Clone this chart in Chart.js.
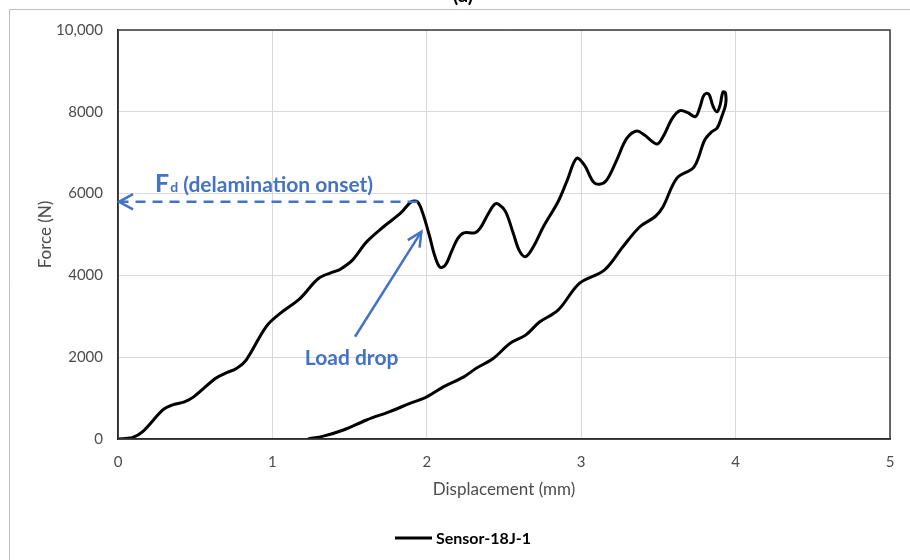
<!DOCTYPE html>
<html>
<head>
<meta charset="utf-8">
<script src="https://cdn.jsdelivr.net/npm/chart.js@4.4.1/dist/chart.umd.min.js"></script>
<style>
  html, body { margin: 0; padding: 0; background: #fff; }
  #wrap { width: 910px; height: 560px; }
</style>
</head>
<body>
<div id="wrap"><canvas id="forceChart" width="910" height="560"></canvas></div>
<script>
// loading branch, mm / N
const LOAD_DISP = [0, 0.09, 0.16, 0.29, 0.35, 0.43, 0.49, 0.63, 0.69, 0.77,
  0.83, 0.96, 1.05, 1.18, 1.30, 1.40, 1.44, 1.52, 1.61, 1.72,
  1.83, 1.90, 1.94, 1.97, 2.015, 2.05, 2.085, 2.12, 2.16, 2.20,
  2.24, 2.31, 2.345, 2.40, 2.44, 2.465, 2.51, 2.56, 2.60, 2.64,
  2.69, 2.755, 2.85, 2.91, 2.97, 3.02, 3.08, 3.12, 3.165, 3.23,
  3.295, 3.36, 3.41, 3.49, 3.53, 3.59, 3.64, 3.69, 3.74, 3.77,
  3.79, 3.81, 3.83, 3.855, 3.88, 3.90, 3.91, 3.92, 3.935];
const LOAD_FORCE = [0, 30, 180, 710, 830, 910, 1030, 1480, 1600, 1730,
  1930, 2750, 3070, 3440, 3930, 4090, 4150, 4380, 4820, 5190,
  5520, 5800, 5800, 5560, 5000, 4500, 4200, 4250, 4580, 4900,
  5040, 5040, 5150, 5520, 5740, 5740, 5560, 5030, 4600, 4460,
  4700, 5190, 5800, 6330, 6860, 6700, 6280, 6230, 6330, 6820,
  7350, 7530, 7430, 7210, 7390, 7840, 8030, 7980, 7880, 8125,
  8370, 8450, 8410, 8125, 8000, 8170, 8370, 8490, 8450];

// unloading branch
const UNLOAD_DISP = [3.935, 3.91, 3.88, 3.845, 3.80, 3.73, 3.62, 3.53, 3.48, 3.38,
  3.27, 3.15, 2.99, 2.85, 2.73, 2.64, 2.54, 2.43, 2.32, 2.24,
  2.11, 2.00, 1.89, 1.76, 1.61, 1.46, 1.33, 1.23];
const UNLOAD_FORCE = [8170, 7880, 7600, 7510, 7310, 6650, 6380, 5680, 5440, 5190,
  4700, 4130, 3810, 3150, 2860, 2540, 2340, 1970, 1730, 1520,
  1280, 1030, 870, 670, 465, 220, 70, 0];

const SERIES_LABEL = 'Sensor-18J-1';
const X_TICKS = [0, 1, 2, 3, 4, 5];
const Y_TICKS = [0, 2000, 4000, 6000, 8000, 10000];

// annotation anchors (data units)
const FD_FORCE = 5800;
const FD_DISP = 1.94;
const DROP_FROM = [1.535, 2500];
const DROP_TO = [1.965, 5070];

const BLUE = '#4472C4';
const AXIS_TXT = '#4d4d4d';
const FONT = 'Lato, "Open Sans", sans-serif';

const points = LOAD_DISP.map((x, i) => ({ x, y: LOAD_FORCE[i] }))
  .concat(UNLOAD_DISP.map((x, i) => ({ x, y: UNLOAD_FORCE[i] })));

function chevron(ctx, tipX, tipY, angle, len, spread) {
  ctx.beginPath();
  ctx.moveTo(tipX + len * Math.cos(angle + spread), tipY + len * Math.sin(angle + spread));
  ctx.lineTo(tipX, tipY);
  ctx.lineTo(tipX + len * Math.cos(angle - spread), tipY + len * Math.sin(angle - spread));
  ctx.stroke();
}

const sheetFrame = {
  id: 'sheetFrame',
  beforeDraw(chart) {
    const ctx = chart.ctx;
    ctx.save();
    ctx.fillStyle = '#fff';
    ctx.fillRect(0, 0, chart.width, chart.height);
    ctx.strokeStyle = '#bfbfbf';
    ctx.lineWidth = 1;
    ctx.beginPath();
    ctx.moveTo(9.5, chart.height + 2);
    ctx.lineTo(9.5, 9.5);
    ctx.lineTo(chart.width + 2, 9.5);
    ctx.stroke();
    // panel letter sitting just above the frame
    ctx.fillStyle = '#000';
    ctx.font = 'bold 20px ' + FONT;
    ctx.textAlign = 'center';
    ctx.textBaseline = 'alphabetic';
    ctx.fillText('(a)', 463, 2);
    ctx.restore();
  },
  afterDraw(chart) {
    const { ctx, chartArea: a, scales: { x, y } } = chart;
    ctx.save();
    // plot border
    ctx.strokeStyle = '#3a3a3a';
    ctx.lineWidth = 1.5;
    ctx.strokeRect(a.left, a.top, a.right - a.left, a.bottom - a.top);

    ctx.strokeStyle = BLUE;
    ctx.fillStyle = BLUE;
    ctx.lineWidth = 2.5;
    ctx.lineCap = 'butt';

    // Fd dashed arrow back to the force axis
    const fy = y.getPixelForValue(FD_FORCE);
    const fx0 = x.getPixelForValue(FD_DISP);
    const fx1 = x.getPixelForValue(0) + 1;
    ctx.setLineDash([10, 7]);
    ctx.beginPath();
    ctx.moveTo(fx0, fy);
    ctx.lineTo(fx1 + 3, fy);
    ctx.stroke();
    ctx.setLineDash([]);
    chevron(ctx, fx1, fy, 0, 16, 0.5);

    // Fd (delamination onset)
    let tx = x.getPixelForValue(0.24);
    const ty = fy - 10;
    ctx.textAlign = 'left';
    ctx.textBaseline = 'alphabetic';
    ctx.font = 'bold 25px ' + FONT;
    ctx.fillText('F', tx, ty);
    tx += ctx.measureText('F').width + 1;
    ctx.font = 'bold 14px ' + FONT;
    ctx.fillText('d', tx, ty);
    tx += ctx.measureText('d').width;
    ctx.font = 'bold 21px ' + FONT;
    ctx.fillText(' (delamination onset)', tx, ty);

    // load drop arrow
    const ax0 = x.getPixelForValue(DROP_FROM[0]);
    const ay0 = y.getPixelForValue(DROP_FROM[1]);
    const ax1 = x.getPixelForValue(DROP_TO[0]);
    const ay1 = y.getPixelForValue(DROP_TO[1]);
    ctx.beginPath();
    ctx.moveTo(ax0, ay0);
    ctx.lineTo(ax1, ay1);
    ctx.stroke();
    const ang = Math.atan2(ay0 - ay1, ax0 - ax1);
    chevron(ctx, ax1, ay1, ang, 16, 0.45);

    ctx.font = 'bold 21px ' + FONT;
    ctx.fillText('Load drop', x.getPixelForValue(1.21), y.getPixelForValue(1810));

    // legend entry
    const ly = 538;
    ctx.strokeStyle = '#000';
    ctx.lineWidth = 3;
    ctx.beginPath();
    ctx.moveTo(395, ly);
    ctx.lineTo(432, ly);
    ctx.stroke();
    ctx.fillStyle = '#000';
    ctx.font = 'bold 16px ' + FONT;
    ctx.textBaseline = 'middle';
    ctx.fillText(chart.data.datasets[0].label, 436, ly + 1);
    ctx.restore();
  }
};

new Chart(document.getElementById('forceChart'), {
  type: 'scatter',
  data: {
    datasets: [{
      label: SERIES_LABEL,
      data: points,
      showLine: true,
      borderColor: '#000',
      backgroundColor: '#000',
      borderWidth: 3,
      pointRadius: 0,
      tension: 0.35,
    }],
  },
  options: {
    responsive: false,
    animation: false,
    layout: { padding: { left: 10, right: 20, top: 30, bottom: 50 } },
    plugins: { legend: { display: false }, tooltip: { enabled: false } },
    scales: {
      x: {
        type: 'linear', min: 0, max: 5,
        afterBuildTicks: s => { s.ticks = X_TICKS.map(v => ({ value: v })); },
        afterFit: s => { s.height = 71; },
        grid: { color: '#d9d9d9', lineWidth: 1, drawTicks: false },
        border: { color: '#000', width: 1.5 },
        ticks: { padding: 14, color: AXIS_TXT, font: { family: FONT, size: 15 } },
        title: { display: true, text: 'Displacement (mm)', color: AXIS_TXT,
          font: { family: FONT, size: 17 }, padding: { top: 0, bottom: 10 } },
      },
      y: {
        type: 'linear', min: 0, max: 10000,
        afterBuildTicks: s => { s.ticks = Y_TICKS.map(v => ({ value: v })); },
        afterFit: s => { s.width = 108; },
        grid: { color: '#d9d9d9', lineWidth: 1, drawTicks: false },
        border: { color: '#000', width: 1.5 },
        ticks: { padding: 15, color: AXIS_TXT, font: { family: FONT, size: 15 },
          callback: v => (v === 10000 ? '10,000' : String(v)) },
        title: { display: true, text: 'Force (N)', color: AXIS_TXT,
          font: { family: FONT, size: 17 }, padding: { top: 25, bottom: 0 } },
      },
    },
  },
  plugins: [sheetFrame],
});
</script>
</body>
</html>
